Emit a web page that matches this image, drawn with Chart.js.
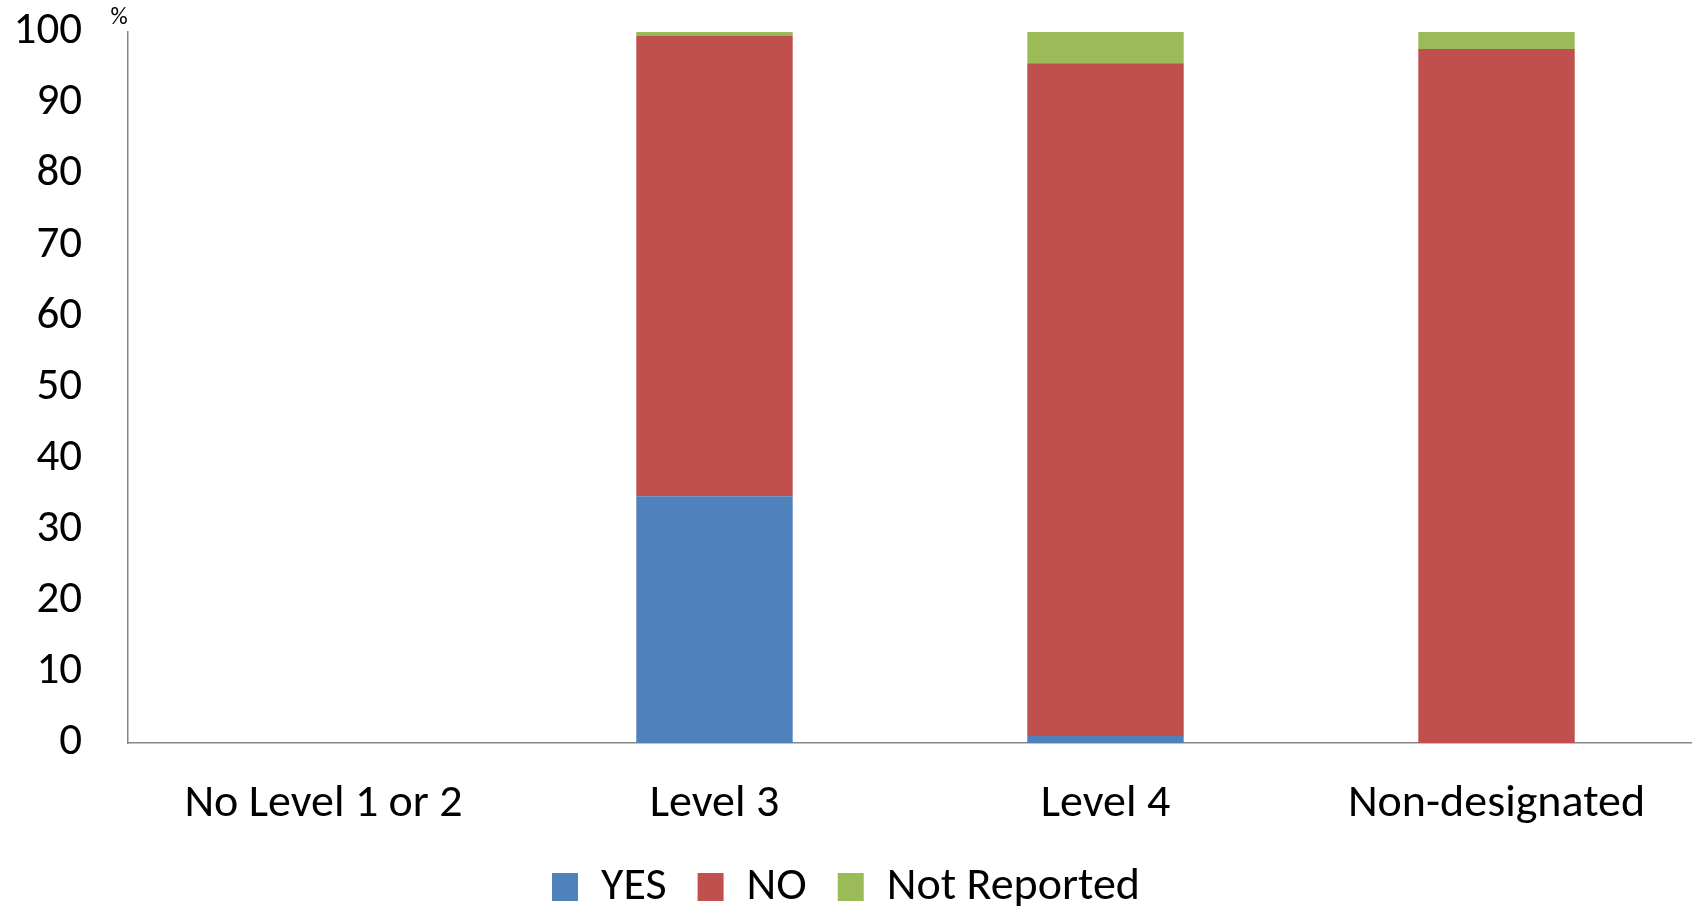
<!DOCTYPE html>
<html>
<head>
<meta charset="utf-8">
<script src="https://cdn.jsdelivr.net/npm/chart.js@4"></script>
<style>
  html, body { margin: 0; padding: 0; background: #fff; }
  #wrap { width: 1692px; height: 911px; position: relative; }
</style>
</head>
<body>
<div id="wrap"><canvas id="chart"></canvas></div>
<script>
// values (percent)
const categories = ['No Level 1 or 2', 'Level 3', 'Level 4', 'Non-designated'];
const yesVals = [0, 34.7, 1.0, 0];
const noVals  = [0, 64.8, 94.6, 97.6];
const nrVals  = [0, 0.5, 4.4, 2.4];
const yTicks  = [0, 10, 20, 30, 40, 50, 60, 70, 80, 90, 100];

const FONT = 'Carlito, Lato, "Open Sans", sans-serif';
const AXIS = '#868686';

// small "%" unit label above the y axis
const unitLabel = {
  id: 'unitLabel',
  afterDraw(chart) {
    const { ctx, chartArea } = chart;
    ctx.save();
    ctx.font = '24px ' + FONT;
    ctx.fillStyle = '#000';
    ctx.textAlign = 'center';
    ctx.textBaseline = 'middle';
    ctx.fillText('%', chartArea.left - 9, chartArea.top - 14);
    ctx.restore();
  }
};

new Chart(document.getElementById('chart'), {
  type: 'bar',
  data: {
    labels: categories,
    datasets: [
      { label: 'YES',          data: yesVals, backgroundColor: '#4F81BD', borderWidth: 0 },
      { label: 'NO',           data: noVals,  backgroundColor: '#C0504D', borderWidth: 0 },
      { label: 'Not Reported', data: nrVals,  backgroundColor: '#9BBB59', borderWidth: 0 },
    ]
  },
  options: {
    responsive: true, maintainAspectRatio: false, animation: false,
    layout: { padding: { top: 32, left: 0, right: 0, bottom: -9 } },
    datasets: { bar: { categoryPercentage: 1, barPercentage: 0.4 } },
    plugins: {
      tooltip: { enabled: false },
      legend: {
        position: 'bottom',
        labels: {
          font: { family: FONT, size: 46 },
          color: '#000',
          boxWidth: 26, boxHeight: 28,
          padding: 31,
        }
      }
    },
    scales: {
      x: {
        stacked: true,
        grid: { display: false, drawTicks: false },
        border: { display: true, color: AXIS, width: 1.5 },
        ticks: { font: { family: FONT, size: 46 }, color: '#000', padding: 34, maxRotation: 0 },
        afterFit: s => { s.height = 90; }
      },
      y: {
        stacked: true,
        min: 0, max: 100,
        grid: { display: false, drawTicks: false },
        border: { display: true, color: AXIS, width: 1.5 },
        afterBuildTicks: s => { s.ticks = yTicks.map(v => ({ value: v })); },
        ticks: { font: { family: FONT, size: 45 }, color: '#000', padding: 46 },
        // tick padding is meant horizontally only; drop its vertical share
        afterFit: s => { s.width = 128; s.paddingTop = 27; s.paddingBottom = 27; }
      }
    }
  },
  plugins: [unitLabel]
});
</script>
</body>
</html>
